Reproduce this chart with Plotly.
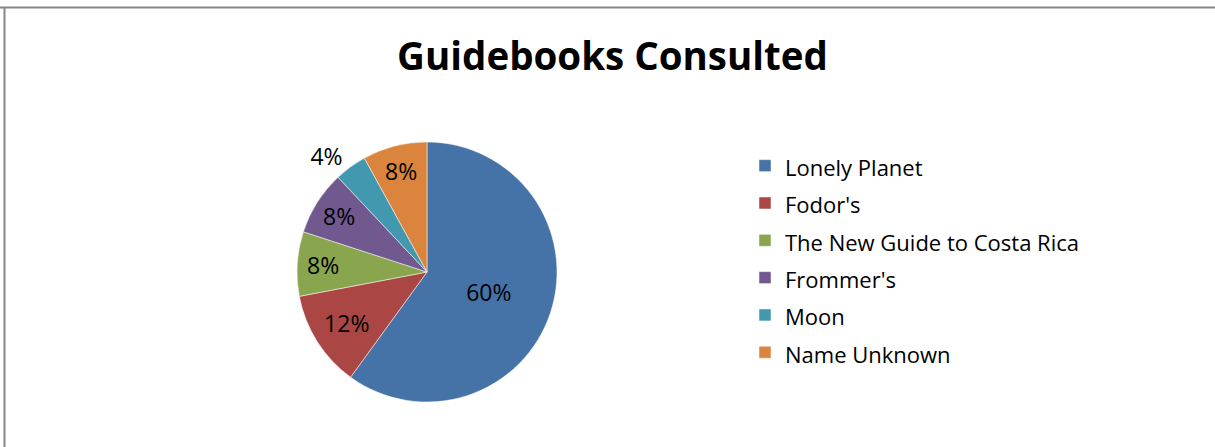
import plotly.graph_objects as go

labels = ["Lonely Planet", "Fodor's", "The New Guide to Costa Rica", "Frommer's", "Moon", "Name Unknown"]
values = [60, 12, 8, 8, 4, 8]
colors = ["#4572A7", "#AA4643", "#89A54E", "#71588F", "#4198AF", "#DB843D"]
text_pos = ["inside", "inside", "inside", "inside", "outside", "inside"]

W, H = 1215, 447
cx, cy, r = 427, 272, 130
FONT = "Open Sans, sans-serif"

legend_labels = [f"<span style='font-size:22px'>{l}</span>" for l in labels]

fig = go.Figure(go.Pie(
    labels=legend_labels, values=values, sort=False, direction="clockwise", rotation=0,
    marker=dict(colors=colors, line=dict(color="white", width=0.5)),
    texttemplate="%{percent:.0%}", textposition=text_pos,
    insidetextorientation="horizontal",
    textfont=dict(family=FONT, size=23, color="black"),
    domain=dict(x=[(cx - r) / W, (cx + r) / W], y=[(H - cy - r) / H, (H - cy + r) / H]),
    showlegend=True,
    hoverinfo="skip",
))

fig.update_layout(
    width=W, height=H,
    margin=dict(l=0, r=0, t=0, b=0),
    paper_bgcolor="white",
    title=dict(text="<b>Guidebooks Consulted</b>", x=612.5 / W, xanchor="center", y=1 - 57 / H, yanchor="middle",
               font=dict(family=FONT, size=38.5, color="black")),
    legend=dict(x=745 / W, xanchor="left", y=1 - 142 / H, yanchor="top",
                font=dict(family=FONT, size=26.4, color="black"),
                bgcolor="rgba(0,0,0,0)"),
    shapes=[
        dict(type="line", xref="paper", yref="paper", x0=0, x1=1, y0=1 - 7.5 / H, y1=1 - 7.5 / H,
             line=dict(color="#868686", width=2)),
        dict(type="line", xref="paper", yref="paper", x0=4.5 / W, x1=4.5 / W, y0=0, y1=1 - 7.5 / H,
             line=dict(color="#868686", width=2)),
    ],
)

fig.write_html("out.html", config={"displayModeBar": False},
               post_script="document.body.style.margin='0';")
